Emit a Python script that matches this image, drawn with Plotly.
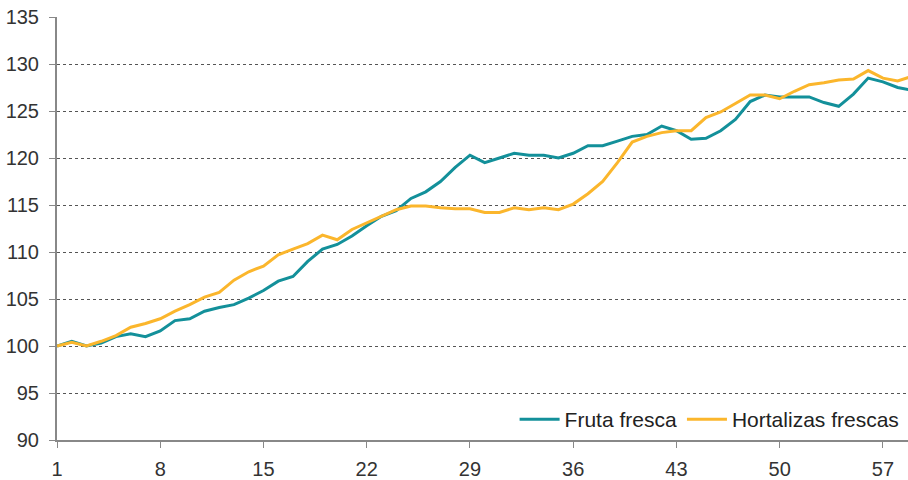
import plotly.graph_objects as go

x_vals = list(range(1, 60))
fruta = [100.0, 100.5, 100.0, 100.3, 101.0, 101.3, 101.0, 101.6, 102.7, 102.9,
         103.7, 104.1, 104.4, 105.1, 105.9, 106.9, 107.4, 109.0, 110.3, 110.8,
         111.7, 112.8, 113.8, 114.4, 115.7, 116.4, 117.5, 119.0, 120.3, 119.5,
         120.0, 120.5, 120.3, 120.3, 120.0, 120.5, 121.3, 121.3, 121.8, 122.3,
         122.5, 123.4, 122.9, 122.0, 122.1, 122.9, 124.1, 126.0, 126.7, 126.5,
         126.5, 126.5, 125.9, 125.5, 126.8, 128.5, 128.1, 127.5, 127.2]
hortalizas = [100.0, 100.4, 100.0, 100.5, 101.1, 102.0, 102.4, 102.9, 103.7, 104.4,
              105.2, 105.7, 107.0, 107.9, 108.5, 109.7, 110.3, 110.9, 111.8, 111.3,
              112.4, 113.1, 113.8, 114.5, 114.9, 114.9, 114.7, 114.6, 114.6, 114.2,
              114.2, 114.7, 114.5, 114.7, 114.5, 115.1, 116.2, 117.5, 119.5, 121.7,
              122.3, 122.7, 122.9, 122.9, 124.3, 124.9, 125.8, 126.7, 126.7, 126.3,
              127.1, 127.8, 128.0, 128.3, 128.4, 129.3, 128.5, 128.2, 128.7]
x_ticks = [1, 8, 15, 22, 29, 36, 43, 50, 57]
y_ticks = [90, 95, 100, 105, 110, 115, 120, 125, 130, 135]

font_family = "Liberation Sans, Arial, sans-serif"

fig = go.Figure()
fig.add_trace(go.Scatter(x=x_vals, y=fruta, mode="lines", name="Fruta fresca",
                         line=dict(color="#13909A", width=3)))
fig.add_trace(go.Scatter(x=x_vals, y=hortalizas, mode="lines", name="Hortalizas frescas",
                         line=dict(color="#FBB62C", width=3)))

fig.update_layout(
    width=908, height=480,
    margin=dict(l=57, r=0, t=17, b=37),
    plot_bgcolor="white", paper_bgcolor="white",
    font=dict(family=font_family, size=20, color="#333333"),
    showlegend=True,
    legend=dict(orientation="h", x=0.996, xanchor="right", y=0.0, yanchor="bottom",
                bgcolor="rgba(255,255,255,0)",
                font=dict(family=font_family, size=21, color="#222222"),
                itemwidth=40, tracegroupgap=0),
)
fig.update_xaxes(range=[1, 58.7], tickvals=x_ticks, ticks="outside", ticklen=6,
                 tickcolor="#888888", showline=True, linecolor="#888888", linewidth=2,
                 showgrid=False, zeroline=False, tickfont=dict(size=20),
                 ticklabelstandoff=4)
fig.update_yaxes(range=[90, 135], tickvals=y_ticks, ticks="outside", ticklen=6,
                 tickcolor="#888888", showline=True, linecolor="#888888", linewidth=2,
                 showgrid=True, gridcolor="#555555", gridwidth=1, griddash="3px,3px",
                 zeroline=False, tickfont=dict(size=20), ticklabelstandoff=6)

fig.write_html("out.html", config={"displayModeBar": False},
               post_script="document.body.style.margin='0px';")
